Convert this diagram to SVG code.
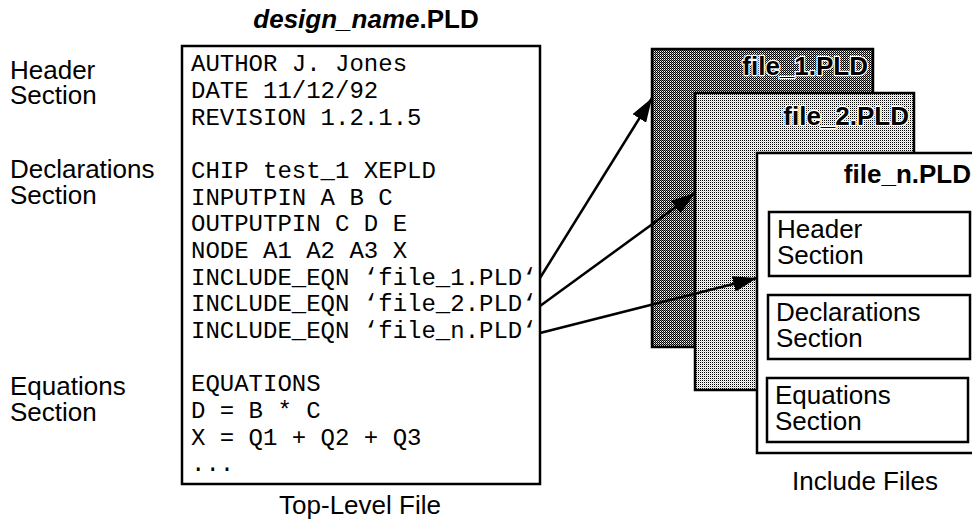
<svg xmlns="http://www.w3.org/2000/svg" width="972" height="522" viewBox="0 0 972 522">
<style>
.lbl{font-family:"Liberation Sans",Arial,Helvetica,sans-serif;font-size:26px;fill:#000}
.code{font-family:"Liberation Mono","Courier New",monospace;font-size:24px;fill:#000}
.fname{font-family:"Liberation Sans",Arial,Helvetica,sans-serif;font-size:26px;font-weight:bold;fill:#000}
.halo{stroke:#fff;stroke-width:2.5;paint-order:stroke;stroke-linejoin:round}
.title{font-family:"Liberation Sans",Arial,Helvetica,sans-serif;font-size:26px;font-weight:bold;fill:#000}
.box{fill:#fff;stroke:#000;stroke-width:2.5}
.conn{stroke:#000;stroke-width:2.5;fill:none}
</style>
<defs>
<pattern id="dark" width="2" height="2" patternUnits="userSpaceOnUse">
<rect width="2" height="2" fill="#fff"/>
<rect x="0" y="0" width="1" height="1" fill="#000"/>
<rect x="1" y="1" width="1" height="1" fill="#000"/>
<rect x="1" y="0" width="1" height="1" fill="#888"/>
</pattern>
<pattern id="light" width="2" height="2" patternUnits="userSpaceOnUse">
<rect width="2" height="2" fill="#fff"/>
<rect x="0" y="0" width="1" height="1" fill="#000"/>
<rect x="1" y="1" width="1" height="1" fill="#ccc"/>
</pattern>
<marker id="ah" viewBox="0 0 24 16" refX="24" refY="8" markerWidth="24" markerHeight="16" markerUnits="userSpaceOnUse" orient="auto">
<path d="M0,0 L24,8 L0,16 z" fill="#000"/>
</marker>
</defs>

<g id="left-labels">
<text class="lbl" x="10" y="79">Header<tspan x="10" dy="25">Section</tspan></text>
<text class="lbl" x="10" y="178">Declarations<tspan x="10" dy="26">Section</tspan></text>
<text class="lbl" x="10" y="395">Equations<tspan x="10" dy="26">Section</tspan></text>
</g>

<g id="top-level-file">
<text class="title" x="366" y="28" text-anchor="middle"><tspan font-style="italic">design_name</tspan>.PLD</text>
<rect class="box" x="182" y="46" width="358" height="438"/>
<text class="code" x="191" y="71">AUTHOR J. Jones</text>
<text class="code" x="191" y="98">DATE 11/12/92</text>
<text class="code" x="191" y="125">REVISION 1.2.1.5</text>
<text class="code" x="191" y="178">CHIP test_1 XEPLD</text>
<text class="code" x="191" y="205">INPUTPIN A B C</text>
<text class="code" x="191" y="231">OUTPUTPIN C D E</text>
<text class="code" x="191" y="258">NODE A1 A2 A3 X</text>
<text class="code" x="191" y="285">INCLUDE_EQN ‘file_1.PLD‘</text>
<text class="code" x="191" y="311">INCLUDE_EQN ‘file_2.PLD‘</text>
<text class="code" x="191" y="338">INCLUDE_EQN ‘file_n.PLD‘</text>
<text class="code" x="191" y="391">EQUATIONS</text>
<text class="code" x="191" y="418">D = B * C</text>
<text class="code" x="191" y="445">X = Q1 + Q2 + Q3</text>
<text class="code" x="191" y="471">...</text>
<text class="lbl" x="360" y="514" text-anchor="middle">Top-Level File</text>
</g>

<g id="file1">
<rect x="652" y="49" width="221" height="298" fill="url(#dark)" stroke="#000" stroke-width="2.5"/>
<text class="fname halo" x="868" y="75" text-anchor="end">file_1.PLD</text>
</g>

<g id="file2">
<rect x="695" y="93" width="219" height="297" fill="url(#light)" stroke="#000" stroke-width="2.5"/>
<text class="fname halo" x="909" y="125" text-anchor="end">file_2.PLD</text>
</g>

<g id="filen">
<rect class="box" x="757" y="153" width="230" height="300"/>
<text class="fname" x="971" y="183" text-anchor="end">file_n.PLD</text>
<rect class="box" x="769" y="212" width="201" height="64"/>
<text class="lbl" x="777" y="238">Header<tspan x="777" dy="26">Section</tspan></text>
<rect class="box" x="768" y="295" width="202" height="64"/>
<text class="lbl" x="776" y="321">Declarations<tspan x="776" dy="26">Section</tspan></text>
<rect class="box" x="767" y="378" width="201" height="64"/>
<text class="lbl" x="775" y="404">Equations<tspan x="775" dy="26">Section</tspan></text>
<text class="lbl" x="865" y="490" text-anchor="middle">Include Files</text>
</g>

<g id="connectors">
<line class="conn" x1="540" y1="278" x2="652" y2="98" marker-end="url(#ah)"/>
<line class="conn" x1="540" y1="306" x2="695" y2="193" marker-end="url(#ah)"/>
<line class="conn" x1="540" y1="333" x2="757" y2="278" marker-end="url(#ah)"/>
</g>
</svg>
